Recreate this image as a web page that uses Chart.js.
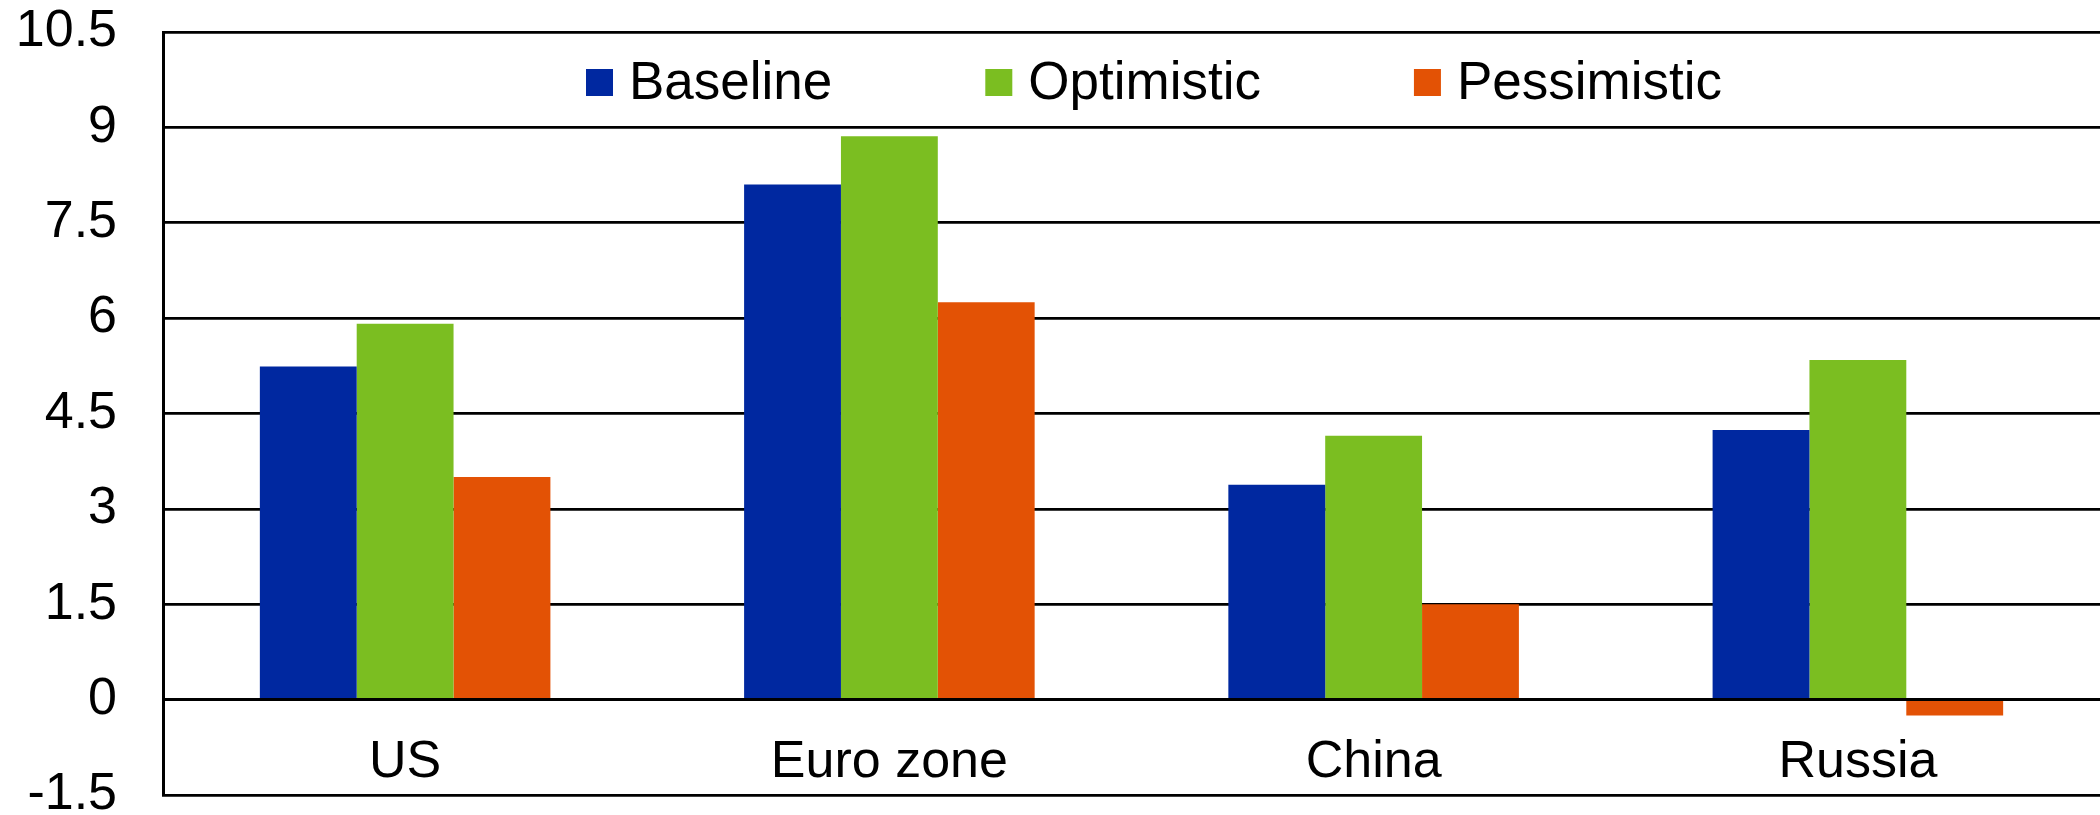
<!DOCTYPE html>
<html><head><meta charset="utf-8">
<script src="https://cdn.jsdelivr.net/npm/chart.js@4/dist/chart.umd.min.js"></script>
<style>html,body{margin:0;padding:0;background:#fff;}#wrap{width:2100px;height:815px;}</style>
</head><body><div id="wrap"><canvas id="c" width="2100" height="815"></canvas></div>
<script>
const categories = ['US', 'Euro zone', 'China', 'Russia'];
const baseline = [5.24, 8.10, 3.38, 4.24];
const optimistic = [5.91, 8.86, 4.15, 5.34];
const pessimistic = [3.50, 6.25, 1.50, -0.25];
const seriesNames = ['Baseline', 'Optimistic', 'Pessimistic'];
const seriesColors = ['#0028a0', '#7bbe21', '#e35205'];
const yTickValues = [-1.5, 0, 1.5, 3, 4.5, 6, 7.5, 9, 10.5];
const yTickLabels = ['-1.5', '0', '1.5', '3', '4.5', '6', '7.5', '9', '10.5'];

const FONT = '"Liberation Sans", Arial, Helvetica, sans-serif';

const legendPlugin = {
  id: 'innerLegend',
  afterDraw(chart) {
    const ctx = chart.ctx;
    ctx.save();
    ctx.font = '53px ' + FONT;
    ctx.textBaseline = 'alphabetic';
    ctx.textAlign = 'left';
    let x = 586;
    const box = 27, gap = 16, itemGap = 153, boxTop = 69, baseY = 99;
    chart.data.datasets.forEach(ds => {
      ctx.fillStyle = ds.backgroundColor;
      ctx.fillRect(x, boxTop, box, box);
      ctx.fillStyle = '#000';
      ctx.fillText(ds.label, x + box + gap, baseY);
      x += box + gap + ctx.measureText(ds.label).width + itemGap;
    });
    ctx.restore();
  }
};

const datasets = [baseline, optimistic, pessimistic].map((vals, i) => ({
  label: seriesNames[i],
  data: vals,
  backgroundColor: seriesColors[i],
  borderWidth: 0,
  categoryPercentage: 0.6,
  barPercentage: 1.0
}));

new Chart(document.getElementById('c'), {
  type: 'bar',
  data: { labels: categories, datasets },
  options: {
    responsive: false,
    devicePixelRatio: 1,
    animation: false,
    layout: { padding: { top: 32, bottom: 20, left: 0, right: 0 } },
    plugins: { legend: { display: false }, tooltip: { enabled: false } },
    scales: {
      y: {
        position: 'left',
        min: -1.5,
        max: 10.5,
        afterBuildTicks: (s) => { s.ticks = yTickValues.map(v => ({ value: v })); },
        afterFit: (s) => { s.width = 163; s.paddingTop = 0; s.paddingBottom = 0; },
        grid: { color: '#000', lineWidth: 2.7, drawTicks: false },
        border: { color: '#000', width: 3 },
        ticks: {
          padding: 46,
          color: '#000',
          font: { size: 52, family: FONT },
          callback: (v, i) => yTickLabels[i]
        }
      },
      x: {
        type: 'category',
        position: { y: 0 },
        grid: { display: false, drawTicks: false },
        border: { color: '#000', width: 3, z: 1 },
        afterFit: (s) => { s.paddingLeft = 0; s.paddingRight = 0; },
        ticks: {
          padding: 32,
          color: '#000',
          maxRotation: 0,
          font: { size: 52, family: FONT }
        }
      }
    }
  },
  plugins: [legendPlugin]
});
</script>
</body></html>
